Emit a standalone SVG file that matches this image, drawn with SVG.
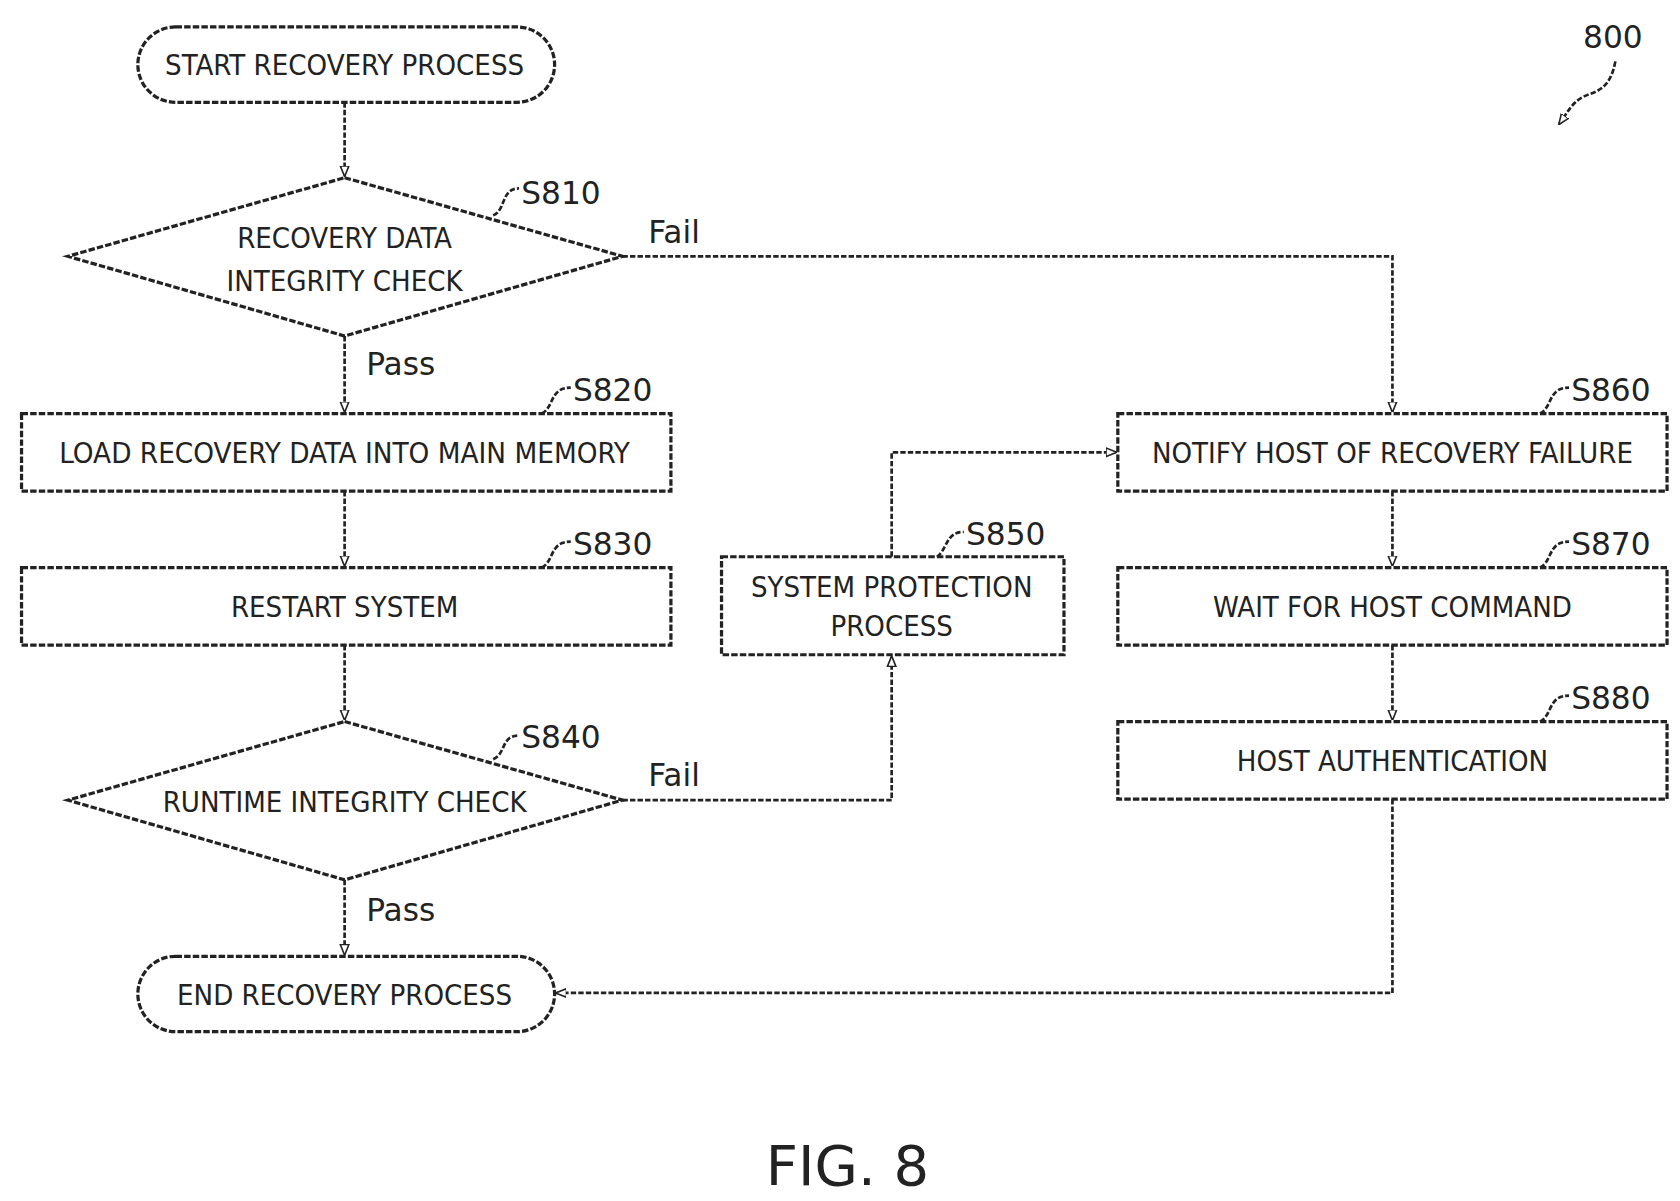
<svg xmlns="http://www.w3.org/2000/svg" width="1680" height="1201" viewBox="0 0 1680 1201">
<style>
.s{fill:none;stroke:#222;stroke-width:2.5;stroke-dasharray:5 2}
.b{fill:#fff;stroke:#222;stroke-width:3;stroke-dasharray:6 2}
.t{font-family:"DejaVu Sans Condensed","DejaVu Sans",sans-serif;font-size:27px;fill:#222;text-anchor:middle}
.l{font-family:"DejaVu Sans",sans-serif;font-size:29px;fill:#222}
</style>
<defs><marker id="a" viewBox="0 0 10 10" refX="9" refY="5" markerWidth="10" markerHeight="10" markerUnits="userSpaceOnUse" orient="auto"><path d="M0,1 L10,5 L0,9 z" fill="#fff" stroke="#222" stroke-width="1.5"/></marker></defs>
<rect width="1680" height="1201" fill="#fff"/>
<g transform="scale(1.0769)">
<g id="connectors">
<path class="s" d="M320,95 V163" marker-end="url(#a)"/>
<path class="s" d="M320,312 V382" marker-end="url(#a)"/>
<path class="s" d="M320,456 V525" marker-end="url(#a)"/>
<path class="s" d="M320,599 V668" marker-end="url(#a)"/>
<path class="s" d="M320,817 V886" marker-end="url(#a)"/>
<path class="s" d="M578,238 H1293 V382" marker-end="url(#a)"/>
<path class="s" d="M578,743 H828 V610" marker-end="url(#a)"/>
<path class="s" d="M828,517 V420 H1036" marker-end="url(#a)"/>
<path class="s" d="M1293,456 V525" marker-end="url(#a)"/>
<path class="s" d="M1293,599 V668" marker-end="url(#a)"/>
<path class="s" d="M1293,742 V922 H517" marker-end="url(#a)"/>
<path class="s" d="M1500,57 C1495,85 1480,85 1470,90 C1460,95 1455,105 1448,115" marker-end="url(#a)"/>
<text class="l" x="602" y="226">Fail</text>
<text class="l" x="340" y="348">Pass</text>
<text class="l" x="602" y="730">Fail</text>
<text class="l" x="340" y="855">Pass</text>
</g>
<g id="start"><rect class="b" x="128" y="25" width="387" height="70" rx="35"/><text class="t" x="320" y="70">START RECOVERY PROCESS</text></g>
<g id="S810"><polygon class="b" points="320,165 578,238 320,312 63,238"/><text class="t" x="320" y="230">RECOVERY DATA</text><text class="t" x="320" y="270">INTEGRITY CHECK</text>
<path class="s" d="M458,200 C470,195 465,175 482,175"/><text class="l" x="484" y="189">S810</text></g>
<g id="S820"><rect class="b" x="20" y="384" width="603" height="72"/><text class="t" x="320" y="430" textLength="530" lengthAdjust="spacingAndGlyphs">LOAD RECOVERY DATA INTO MAIN MEMORY</text>
<path class="s" d="M503,384 C515,378 510,360 530,360"/><text class="l" x="532" y="372">S820</text></g>
<g id="S830"><rect class="b" x="20" y="527" width="603" height="72"/><text class="t" x="320" y="573">RESTART SYSTEM</text>
<path class="s" d="M503,527 C515,521 510,503 530,503"/><text class="l" x="532" y="515">S830</text></g>
<g id="S840"><polygon class="b" points="320,670 578,743 320,817 63,743"/><text class="t" x="320" y="754">RUNTIME INTEGRITY CHECK</text>
<path class="s" d="M458,705 C470,700 465,683 482,683"/><text class="l" x="484" y="695">S840</text></g>
<g id="end"><rect class="b" x="128" y="888" width="387" height="70" rx="35"/><text class="t" x="320" y="933">END RECOVERY PROCESS</text></g>
<g id="S850"><rect class="b" x="670" y="517" width="318" height="91"/><text class="t" x="828" y="554">SYSTEM PROTECTION</text><text class="t" x="828" y="591">PROCESS</text>
<path class="s" d="M870,517 C880,510 878,494 895,494"/><text class="l" x="897" y="506">S850</text></g>
<g id="S860"><rect class="b" x="1038" y="384" width="510" height="72"/><text class="t" x="1293" y="430">NOTIFY HOST OF RECOVERY FAILURE</text>
<path class="s" d="M1430,384 C1442,378 1437,360 1457,360"/><text class="l" x="1459" y="372">S860</text></g>
<g id="S870"><rect class="b" x="1038" y="527" width="510" height="72"/><text class="t" x="1293" y="573">WAIT FOR HOST COMMAND</text>
<path class="s" d="M1430,527 C1442,521 1437,503 1457,503"/><text class="l" x="1459" y="515">S870</text></g>
<g id="S880"><rect class="b" x="1038" y="670" width="510" height="72"/><text class="t" x="1293" y="716">HOST AUTHENTICATION</text>
<path class="s" d="M1430,670 C1442,664 1437,646 1457,646"/><text class="l" x="1459" y="658">S880</text></g>
<text class="l" x="1470" y="45">800</text>
<text x="787" y="1100" style="font-family:'DejaVu Sans',sans-serif;font-size:52px;fill:#222;text-anchor:middle">FIG. 8</text>
</g>
</svg>
